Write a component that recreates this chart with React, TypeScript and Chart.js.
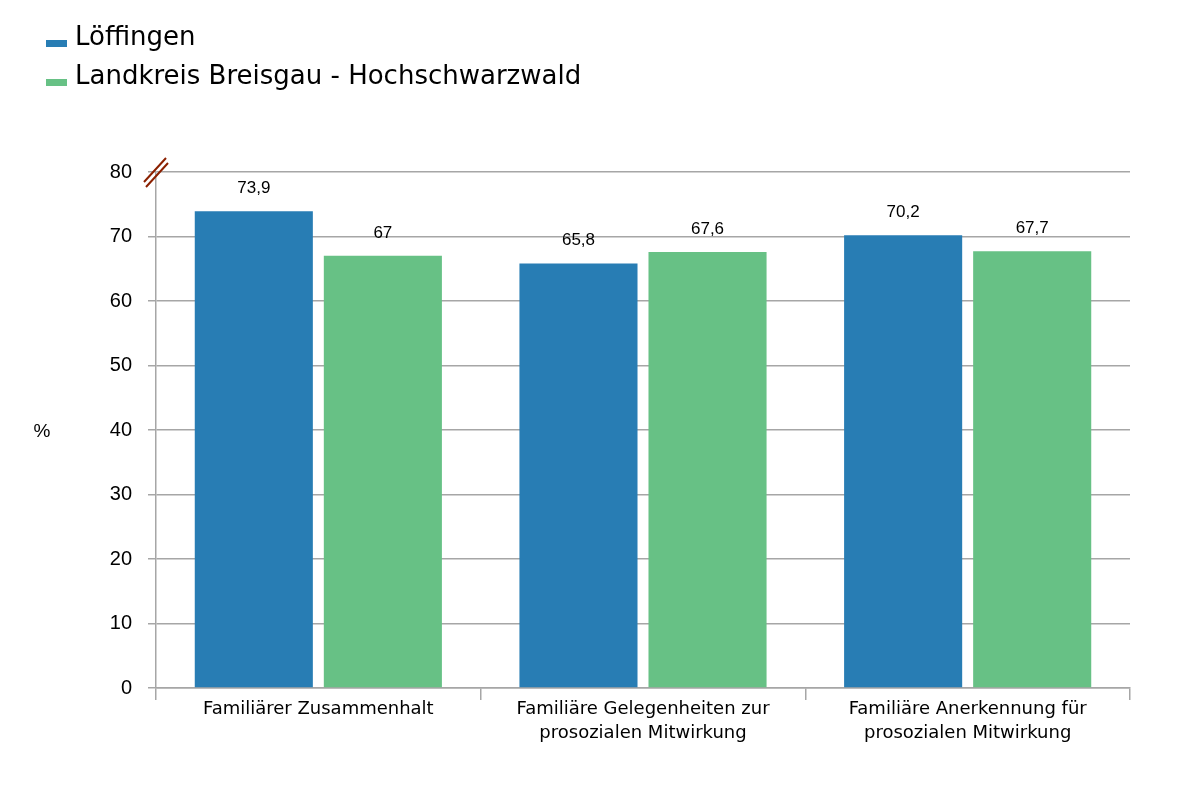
import React, { useEffect, useRef } from "react";
import { Chart, registerables } from "chart.js";

Chart.register(...registerables);

const categories: string[][] = [
  ["Familiärer Zusammenhalt"],
  ["Familiäre Gelegenheiten zur", "prosozialen Mitwirkung"],
  ["Familiäre Anerkennung für", "prosozialen Mitwirkung"],
];
const seriesNames = ["Löffingen", "Landkreis Breisgau - Hochschwarzwald"];
const loeffingen = [73.9, 65.8, 70.2];
const landkreis = [67, 67.6, 67.7];
const yMin = 0;
const yMax = 80;
const yStep = 10;
const yUnit = "%";

const BLUE = "#287db4";
const GREEN = "#67c185";
const GRID = "#a6a6a6";

const fmt = (v: number) => String(v).replace(".", ",");

const overlayPlugin = {
  id: "overlay",
  afterDraw(chart: any) {
    const ctx = chart.ctx;
    const area = chart.chartArea;
    ctx.save();
    // legend
    const colors = [BLUE, GREEN];
    ctx.font = "26px 'DejaVu Sans'";
    ctx.textBaseline = "middle";
    ctx.textAlign = "left";
    seriesNames.forEach((name, i) => {
      const cy = 38 + i * 39;
      ctx.fillStyle = colors[i];
      ctx.fillRect(46, cy + 2, 21, 7);
      ctx.fillStyle = "#000";
      ctx.fillText(name, 75, cy);
    });
    // data labels
    ctx.font = "17px 'Liberation Sans', Arial";
    ctx.textAlign = "center";
    ctx.textBaseline = "middle";
    ctx.fillStyle = "#000";
    chart.data.datasets.forEach((ds: any, di: number) => {
      const meta = chart.getDatasetMeta(di);
      meta.data.forEach((bar: any, i: number) => {
        ctx.fillText(fmt(ds.data[i]), bar.x, bar.y - 23);
      });
    });
    // unit label
    ctx.font = "19px 'Liberation Sans', Arial";
    ctx.fillText(yUnit, 42, (area.top + area.bottom) / 2 + 2);
    // axis break mark
    ctx.strokeStyle = "#8b2000";
    ctx.lineWidth = 2;
    ctx.beginPath();
    ctx.moveTo(area.left - 12, area.top + 10);
    ctx.lineTo(area.left + 10, area.top - 14);
    ctx.moveTo(area.left - 10, area.top + 15);
    ctx.lineTo(area.left + 12, area.top - 9);
    ctx.stroke();
    ctx.restore();
  },
};

export default function App() {
  const ref = useRef<HTMLCanvasElement | null>(null);
  useEffect(() => {
    if (!ref.current) return;
    const chart = new Chart(ref.current, {
      type: "bar",
      data: {
        labels: categories,
        datasets: [
          {
            label: seriesNames[0],
            data: loeffingen,
            backgroundColor: BLUE,
            categoryPercentage: 0.795,
            barPercentage: 0.915,
          },
          {
            label: seriesNames[1],
            data: landkreis,
            backgroundColor: GREEN,
            categoryPercentage: 0.795,
            barPercentage: 0.915,
          },
        ],
      },
      options: {
        animation: false,
        responsive: false,
        devicePixelRatio: 1,
        layout: { padding: { top: 172, right: 72, left: 0, bottom: 0 } },
        plugins: {
          legend: { display: false },
          tooltip: { enabled: false },
        },
        scales: {
          x: {
            afterFit: (s: any) => {
              s.height = 99;
            },
            grid: {
              offset: true,
              drawOnChartArea: false,
              color: GRID,
              lineWidth: 1.5,
              tickLength: 12,
            },
            border: { color: GRID, width: 1.5 },
            ticks: {
              color: "#000",
              font: { family: "'DejaVu Sans'", size: 18, lineHeight: 1.3 },
              padding: -2,
              maxRotation: 0,
              autoSkip: false,
            },
          },
          y: {
            min: yMin,
            max: yMax,
            afterFit: (s: any) => {
              s.width = 156;
            },
            grid: { color: GRID, lineWidth: 1.5, tickLength: 8 },
            border: { color: GRID, width: 1.5 },
            ticks: {
              stepSize: yStep,
              color: "#000",
              font: { family: "'Liberation Sans', Arial", size: 20 },
              padding: 16,
            },
          },
        },
      },
      plugins: [overlayPlugin],
    });
    return () => chart.destroy();
  }, []);
  return (
    <div style={{ position: "absolute", left: 0, top: 0, width: 1202, height: 787, background: "#fff" }}>
      <canvas ref={ref} width={1202} height={787} style={{ width: 1202, height: 787 }} />
    </div>
  );
}
